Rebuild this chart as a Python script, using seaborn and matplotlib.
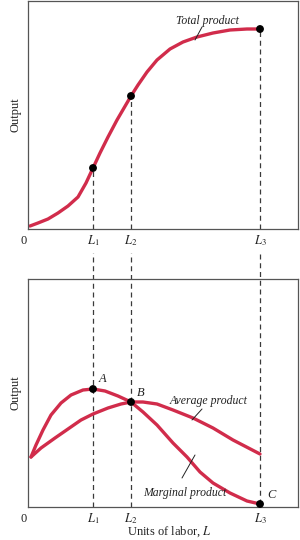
import matplotlib
matplotlib.use("Agg")
import matplotlib.pyplot as plt
import seaborn as sns

sns.set_theme(style="white")
plt.rcParams['font.family'] = ['Liberation Serif', 'DejaVu Serif']
plt.rcParams['mathtext.fontset'] = 'stix'

RED = "#d12c4b"
DASH = "#3a3a3a"
SPINE = "#555555"
INK = "#222222"

# Labor levels
L_labels = ["$L_1$", "$L_2$", "$L_3$"]
L_vals = [6.5, 10.3, 23.2]

# Total product curve
tp_x = [0.2, 1.0, 2.0, 3.0, 4.0, 5.0, 5.8, 6.5, 7.2, 8.0, 8.9, 10.3, 11.0, 11.9, 12.9, 14.2, 15.5, 16.9, 18.5, 20.2, 21.9, 23.2]
tp_y = [0.3, 0.6, 1.0, 1.6, 2.3, 3.2, 4.6, 6.1, 7.6, 9.2, 10.9, 13.3, 14.4, 15.7, 16.9, 18.0, 18.7, 19.2, 19.6, 19.9, 20.0, 20.0]
tp_pts_y = [6.1, 13.3, 20.0]

# Marginal product curve
mp_x = [0.3, 0.8, 1.5, 2.3, 3.3, 4.3, 5.5, 6.5, 7.7, 9.0, 10.3, 11.5, 12.9, 14.5, 15.9, 17.2, 18.5, 20.2, 21.9, 23.2]
mp_y = [5.0, 6.2, 7.7, 9.2, 10.4, 11.2, 11.7, 11.8, 11.6, 11.1, 10.5, 9.5, 8.2, 6.4, 5.0, 3.5, 2.4, 1.4, 0.6, 0.3]

# Average product curve
ap_x = [0.3, 1.3, 2.7, 4.0, 5.3, 6.5, 8.0, 9.3, 10.3, 11.5, 12.9, 14.5, 16.5, 18.5, 20.5, 23.2]
ap_y = [5.0, 5.9, 6.9, 7.8, 8.7, 9.3, 9.9, 10.3, 10.5, 10.5, 10.3, 9.7, 8.9, 7.9, 6.7, 5.3]

# Points A, B, C
pt_names = ["A", "B", "C"]
pt_x = [6.5, 10.3, 23.2]
pt_y = [11.8, 10.5, 0.3]

fig = plt.figure(figsize=(3.0, 5.4), dpi=100)
ax1 = fig.add_axes([28/300, 1 - 229/540, 270/300, 228/540])
ax2 = fig.add_axes([28/300, 1 - 507/540, 270/300, 228/540])

XMAX = 27.0
YMAX = 22.8
LW = 2.4

line_kw = dict(color=RED, lw=LW, sort=False, estimator=None,
               solid_joinstyle="round", solid_capstyle="round")

# ---- top panel ----
sns.lineplot(x=tp_x, y=tp_y, ax=ax1, **line_kw)
for xv, yv in zip(L_vals, tp_pts_y):
    ax1.plot([xv, xv], [0, yv], ls=(0, (4, 3)), color=DASH, lw=0.9, zorder=1)
sns.scatterplot(x=L_vals, y=tp_pts_y, ax=ax1, color="black", s=32, zorder=5,
                edgecolor="none", clip_on=False)
ax1.text(17.9, 20.8, "Total product", style="italic", fontsize=8.5,
         ha="center", va="center", color=INK)
ax1.plot([17.4, 16.7], [20.2, 18.9], color=INK, lw=0.7)
ax1.set_ylabel("Output", fontsize=9, color=INK, labelpad=5)

# ---- bottom panel ----
sns.lineplot(x=mp_x, y=mp_y, ax=ax2, **line_kw)
sns.lineplot(x=ap_x, y=ap_y, ax=ax2, **line_kw)
ends = [0, 0, pt_y[2]]
for xv, y0 in zip(L_vals, ends):
    ax2.plot([xv, xv], [y0, YMAX + 2.6], ls=(0, (4, 3)), color=DASH, lw=0.9,
             zorder=1, clip_on=False)
sns.scatterplot(x=pt_x, y=pt_y, ax=ax2, color="black", s=32, zorder=5,
                edgecolor="none", clip_on=False)
offs = [(0.6, 1.0), (0.6, 0.9), (0.7, 0.9)]
for n, xv, yv, (dx, dy) in zip(pt_names, pt_x, pt_y, offs):
    ax2.text(xv + dx, yv + dy, n, style="italic", fontsize=9, ha="left",
             va="center", color=INK)
ax2.text(18.1, 10.6, "Average product", style="italic", fontsize=8.5,
         ha="center", va="center", color=INK)
ax2.plot([17.4, 16.4], [9.8, 8.7], color=INK, lw=0.7)
ax2.text(15.7, 1.4, "Marginal product", style="italic", fontsize=8.5,
         ha="center", va="center", color=INK)
ax2.plot([16.7, 15.4], [5.2, 2.9], color=INK, lw=0.7)
ax2.set_ylabel("Output", fontsize=9, color=INK, labelpad=5)
ax2.set_xlabel("Units of labor, $L$", fontsize=9, color=INK)
ax2.xaxis.set_label_coords(0.525, -0.075)

for ax in (ax1, ax2):
    ax.set_xlim(0, XMAX)
    ax.set_ylim(0, YMAX)
    ax.set_xticks(L_vals)
    ax.set_xticklabels(L_labels, fontsize=9, color=INK)
    ax.set_yticks([])
    ax.tick_params(axis="x", length=0, pad=3)
    ax.annotate("0", xy=(0, 0), xycoords="axes fraction", xytext=(-3, -4),
                textcoords="offset points", ha="center", va="top",
                fontsize=9, color=INK)
    for s in ax.spines.values():
        s.set_color(SPINE)
        s.set_linewidth(0.9)
        s.set_visible(True)

fig.savefig("out.png", dpi=100, facecolor="white")
